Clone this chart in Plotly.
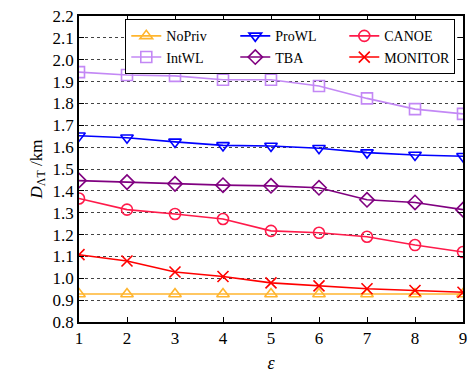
import plotly.graph_objects as go

eps = [1, 2, 3, 4, 5, 6, 7, 8, 9]

nopriv = [0.928, 0.928, 0.928, 0.928, 0.928, 0.928, 0.928, 0.928, 0.928]
intwl = [1.943, 1.930, 1.926, 1.908, 1.908, 1.880, 1.823, 1.774, 1.752]
prowl = [1.652, 1.643, 1.624, 1.608, 1.605, 1.595, 1.575, 1.564, 1.558]
tba = [1.447, 1.440, 1.432, 1.426, 1.423, 1.414, 1.359, 1.347, 1.314]
canoe = [1.365, 1.314, 1.294, 1.271, 1.217, 1.208, 1.190, 1.152, 1.120]
monitor = [1.108, 1.079, 1.029, 1.008, 0.979, 0.965, 0.952, 0.944, 0.936]

y_ticks = [0.8, 0.9, 1.0, 1.1, 1.2, 1.3, 1.4, 1.5, 1.6, 1.7, 1.8, 1.9, 2.0, 2.1, 2.2]

# legend order fills row by row: NoPriv, ProWL, CANOE / IntWL, TBA, MONITOR
series = [
    ("NoPriv", nopriv, "#FFB52E", "triangle-up-open"),
    ("ProWL", prowl, "#0000FF", "triangle-down-open"),
    ("CANOE", canoe, "#FF1A4A", "circle-open"),
    ("IntWL", intwl, "#C388F5", "square-open"),
    ("TBA", tba, "#800080", "diamond-open"),
    ("MONITOR", monitor, "#FF0000", "x-thin-open"),
]

fig = go.Figure()
for name, vals, color, sym in series:
    fig.add_trace(go.Scatter(
        x=eps, y=vals, name=name, mode="lines+markers",
        line=dict(color=color, width=1.6),
        marker=dict(symbol=sym, size=11, color=color,
                    line=dict(color=color, width=1.6)),
    ))

font_family = "Liberation Serif, Times New Roman, serif"

fig.update_layout(
    width=472, height=375,
    margin=dict(l=79, r=5, t=16, b=51),
    paper_bgcolor="white", plot_bgcolor="white",
    font=dict(family=font_family, size=16, color="black"),
    showlegend=True,
    legend=dict(
        orientation="h", x=0.12, y=0.99, xanchor="left", yanchor="top",
        entrywidth=64, entrywidthmode="pixels",
        bordercolor="black", borderwidth=1.2, bgcolor="white",
        font=dict(family=font_family, size=14),
        itemwidth=30, tracegroupgap=0,
    ),
    xaxis=dict(
        range=[1, 9], tickvals=eps, ticks="inside", ticklen=5,
        tickcolor="black", showline=True, linecolor="black", linewidth=1.5,
        mirror="allticks", showgrid=False, zeroline=False,
        title=dict(text="<i>ε</i>", standoff=9,
                   font=dict(family=font_family, size=18)),
        tickfont=dict(family=font_family, size=17),
    ),
    yaxis=dict(
        range=[0.8, 2.2], tickvals=y_ticks,
        ticktext=[f"{v:.1f}" for v in y_ticks],
        ticks="inside", ticklen=5, tickcolor="black",
        showline=True, linecolor="black", linewidth=1.5, mirror="allticks",
        showgrid=True, gridcolor="#444444", griddash="dot", gridwidth=1,
        zeroline=False,
        title=dict(text="<i>D</i><sub>ΛT</sub> /km", standoff=6,
                   font=dict(family=font_family, size=17)),
        tickfont=dict(family=font_family, size=17),
    ),
)

fig.write_html("out.html")
